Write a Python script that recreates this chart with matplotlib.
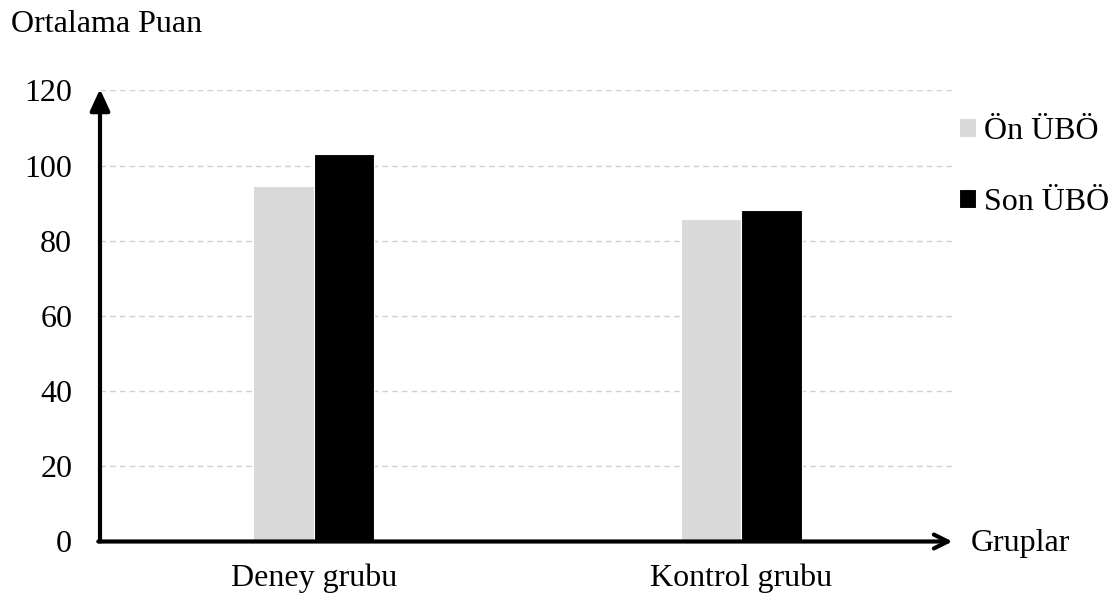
import matplotlib
matplotlib.use("Agg")
import matplotlib.pyplot as plt
import numpy as np

categories = ["Deney grubu", "Kontrol grubu"]
series_names = ["Ön ÜBÖ", "Son ÜBÖ"]
on_ubo = [94.5, 85.7]
son_ubo = [103.1, 88.2]
yticks = [0, 20, 40, 60, 80, 100, 120]

plt.rcParams['font.family'] = ['Liberation Serif', 'DejaVu Serif']
FS = 23

fig = plt.figure(figsize=(11.15, 6), dpi=100)
ax = fig.add_axes([100/1115, 1-541.5/600, 855/1115, (541.5-90.5)/600])

x = np.arange(len(categories))
w = 0.142
ax.bar(x - w/2, on_ubo, w, color="#d9d9d9", edgecolor="white", linewidth=0.8, label=series_names[0], zorder=3)
ax.bar(x + w/2, son_ubo, w, color="#000000", edgecolor="white", linewidth=0.8, label=series_names[1], zorder=3)

ax.set_xlim(-0.5, 1.5)
ax.set_ylim(0, 120)
ax.set_yticks(yticks)
ax.set_yticklabels([str(v) for v in yticks], fontsize=FS)
ax.set_xticks(x)
ax.set_xticklabels(categories, fontsize=FS)
ax.tick_params(axis='y', length=0, pad=20)
ax.tick_params(axis='x', length=0, pad=16)
for s in ax.spines.values():
    s.set_visible(False)
ax.yaxis.grid(True, color="#d0d0d0", linestyle=(0, (4, 3)), linewidth=1.0, zorder=0)
ax.set_axisbelow(True)

ax.annotate("", xy=(0, 1.003), xytext=(0, 0), xycoords='axes fraction',
            arrowprops=dict(arrowstyle="-|>,head_length=1.3,head_width=0.6", color="black", lw=3,
                            shrinkA=0, shrinkB=0), annotation_clip=False, zorder=5)
ax.annotate("", xy=(0.997, 0), xytext=(-0.002, 0), xycoords='axes fraction',
            arrowprops=dict(arrowstyle="->,head_length=1.0,head_width=0.5", color="black", lw=3,
                            shrinkA=0, shrinkB=0), annotation_clip=False, zorder=5)

fig.text(11/1115, 1-24/600, "Ortalama Puan", fontsize=FS, va='center', ha='left')
fig.text(971/1115, 1-543/600, "Gruplar", fontsize=FS, va='center', ha='left')

leg = fig.legend(loc='upper left', bbox_to_anchor=(946/1115, 1-104/600), frameon=False,
                 fontsize=FS, handlelength=0.55, handleheight=0.55, handletextpad=0.25,
                 labelspacing=1.32, borderaxespad=0)

fig.savefig("out.png", dpi=100)
